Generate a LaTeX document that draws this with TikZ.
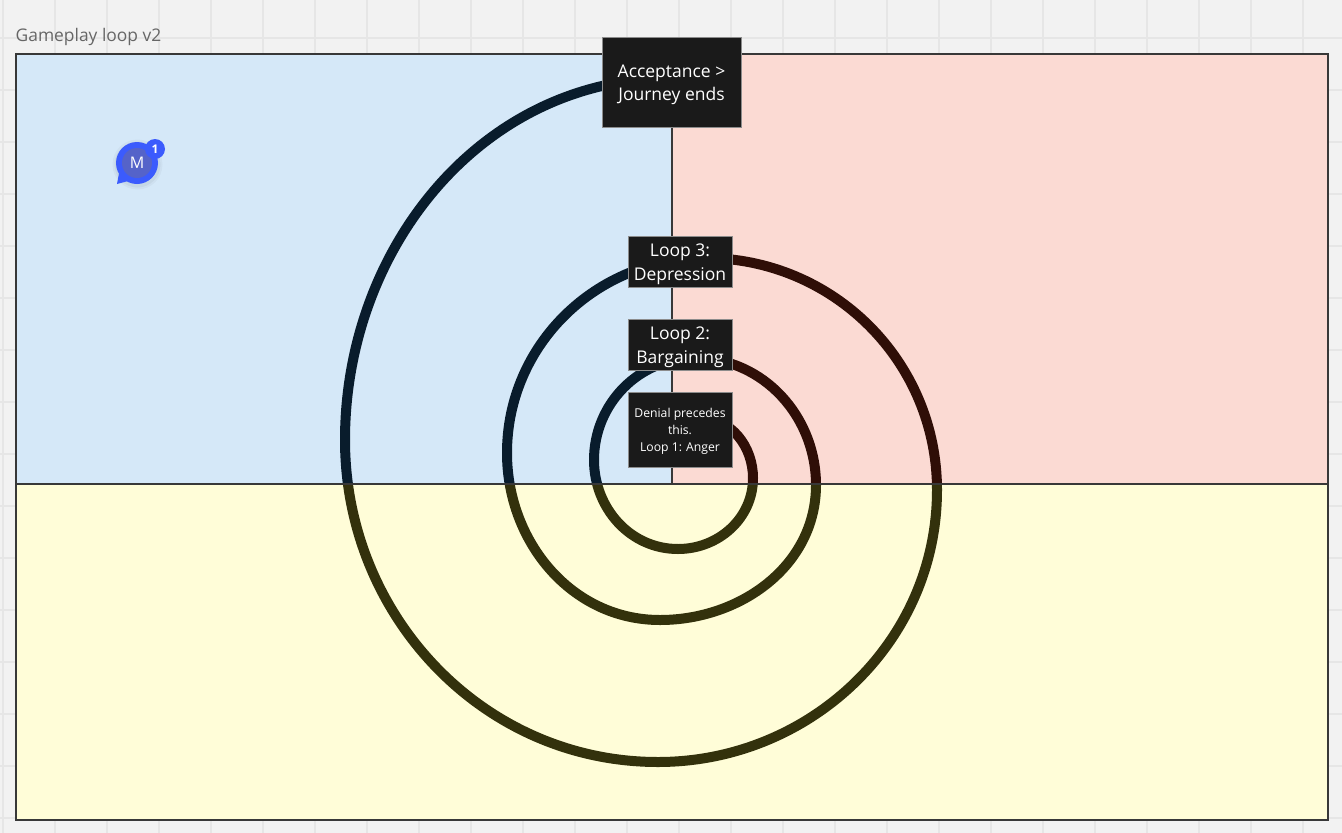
\documentclass[tikz,border=0pt]{standalone}
\usepackage{fontspec}
\setmainfont{Open Sans}
\usepackage{tikz}
\usepackage{xcolor}

\definecolor{canvas}{HTML}{F2F2F2}
\definecolor{gridgray}{HTML}{E6E6E6}
\definecolor{titlegray}{HTML}{666666}
\definecolor{tintblue}{RGB}{45,140,220}
\definecolor{tintred}{RGB}{235,70,35}
\definecolor{tintyellow}{RGB}{255,245,60}
\definecolor{boxfill}{HTML}{1A1A1A}
\definecolor{boxedge}{HTML}{8C8C8C}
\definecolor{mblue}{HTML}{3B5BFD}
\definecolor{mpurple}{HTML}{5563C9}

% extra room above the first line, pushes the text down a little
\newcommand{\bigpad}{\rule{0pt}{18.5pt}}
\newcommand{\smallpad}{\rule{0pt}{12.5pt}}

\tikzset{
  gridline/.style={draw=gridgray, line width=1.2pt},
  divider/.style={draw=black!78, line width=1.5pt},
  spiral/.style={draw=black, line width=10pt},
  stagebox/.style={draw=boxedge, fill=boxfill, text=white, align=center,
    inner sep=0pt, line width=1pt, minimum width=104pt},
  bigtext/.style={font=\fontsize{17.5}{23.5}\selectfont},
  smalltext/.style={font=\fontsize{12.2}{17}\selectfont}
}

\begin{document}
\begin{tikzpicture}[x=1pt,y=-1pt]
        \useasboundingbox (0,0) rectangle (1342,833);
        % Canvas with grid
        \fill[canvas] (0,0) rectangle (1342,833);
        \foreach \gx in {3,55,...,1303} \draw[gridline] (\gx,0) -- (\gx,833);
        \foreach \gy in {-14,38,...,818} \draw[gridline] (0,\gy) -- (1342,\gy);
        % Title
        \node[anchor=base west, inner sep=0pt, text=titlegray,
              font=\fontsize{17.4}{20}\selectfont] (title) at (15.5,41) {Gameplay loop v2};
        % Frame background
        \fill[white] (16,54) rectangle (1328,820);
        % Spiral waypoints
        \coordinate (s1) at (700,418);
        \coordinate (r1) at (753,478);
        \coordinate (b1) at (678,549);
        \coordinate (l1) at (594,460);
        \coordinate (t2) at (695,358);
        \coordinate (r2) at (816,485);
        \coordinate (b2) at (660,620);
        \coordinate (l2) at (507,453);
        \coordinate (t3) at (705,258);
        \coordinate (r3) at (937,490);
        \coordinate (b3) at (658,762);
        \coordinate (l3) at (345,440);
        \coordinate (t4) at (672,78);
        % Spiral (tinted by the quadrants laid over it)
        \draw[spiral] (s1) to[out=0,in=90] (r1) to[out=-90,in=0] (b1)
              to[out=180,in=-90] (l1) to[out=90,in=180] (t2);
        \draw[spiral] (t2) to[out=0,in=90] (r2) to[out=-90,in=0] (b2)
              to[out=180,in=-90] (l2) to[out=90,in=180] (t3);
        \draw[spiral] (t3) to[out=0,in=90] (r3) to[out=-90,in=0] (b3)
              to[out=180,in=-90] (l3) to[out=90,in=180] (t4);
        % Quadrants
        \fill[tintblue, fill opacity=0.2] (16,54) rectangle (672,484);
        \fill[tintred, fill opacity=0.2] (672,54) rectangle (1328,484);
        \fill[tintyellow, fill opacity=0.2] (16,484) rectangle (1328,820);
        \draw[divider] (16,484) -- (1328,484);
        \draw[divider] (672,54) -- (672,484);
        \draw[divider] (16,54) rectangle (1328,820);
        % Stages
        \node[stagebox, bigtext, minimum width=139pt, minimum height=90pt] (accept) at (671.5,82) {\bigpad Acceptance >\\Journey ends};
        \node[stagebox, bigtext, minimum height=51pt] (loop3) at (680,261.5) {\bigpad Loop 3:\\Depression};
        \node[stagebox, bigtext, minimum height=51pt] (loop2) at (680,344.5) {\bigpad Loop 2:\\Bargaining};
        \node[stagebox, smalltext, minimum height=75pt] (denial) at (680,429.5) {\smallpad Denial precedes\\this.\\Loop 1: Anger};
        % Comment marker
        \fill[black, opacity=0.03] (137.5,164.5) circle (25);
        \fill[black, opacity=0.04] (137.5,164.5) circle (23);
        \fill[mblue] (117,184) -- (120,168) -- (132,180) -- cycle;
        \node[circle, fill=mblue, inner sep=0pt, minimum size=42pt] (bubble) at (137,163) {};
        \node[circle, fill=mpurple, inner sep=0pt, minimum size=30pt, text=white,
              font=\fontsize{16}{18}\selectfont] (avatar) at (bubble) {M};
        \node[circle, fill=mblue, inner sep=0pt, minimum size=20pt, text=white,
              font=\bfseries\fontsize{12}{14}\selectfont] (badge) at (155,149) {1};
\end{tikzpicture}
\end{document}
